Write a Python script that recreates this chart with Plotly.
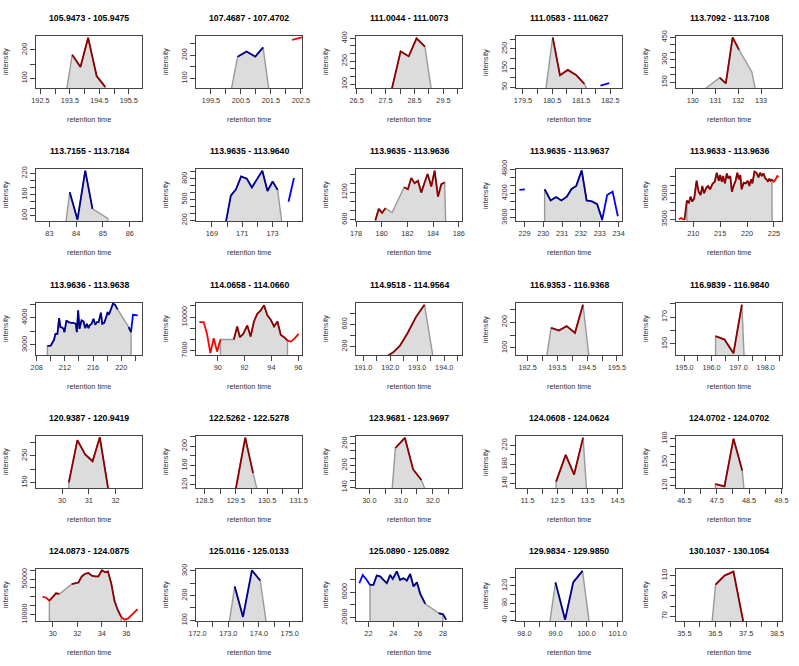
import plotly.graph_objects as go

DR, DB, RD, BL = "#8B0000", "#00008B", "#FF0000", "#0000FF"

# ---------------- panel 1 ----------------
p1_title = "105.9473 - 105.9475"
p1_xrange = [192.35, 195.95]
p1_xticks = [192.5, 193.0, 193.5, 194.0, 194.5, 195.0, 195.5]
p1_xlabels = ["192.5", "", "193.5", "", "194.5", "", "195.5"]
p1_yrange = [66, 249]
p1_yticks = [100, 150, 200]
p1_ylabels = ["100", "", "200"]
p1_area_rt = [193.30, 193.58, 193.86, 194.12, 194.41, 194.70, 194.72]
p1_area_int = [0, 183, 140, 243, 108, 70, 0]
p1_peak_rt = [193.58, 193.86, 194.12, 194.41, 194.70]
p1_peak_int = [183, 140, 243, 108, 70]
p1_peak_col = DR
p1_out_rt, p1_out_int, p1_out_col = [], [], RD

# ---------------- panel 2 ----------------
p2_title = "107.4687 - 107.4702"
p2_xrange = [199.0, 202.54]
p2_xticks = [199.5, 200.0, 200.5, 201.0, 201.5, 202.0, 202.5]
p2_xlabels = ["199.5", "", "200.5", "", "201.5", "", "202.5"]
p2_yrange = [59, 283]
p2_yticks = [100, 150, 200, 250]
p2_ylabels = ["100", "", "200", ""]
p2_area_rt = [200.10, 200.39, 200.69, 200.98, 201.24, 201.49]
p2_area_int = [0, 194, 216, 194, 234, 0]
p2_peak_rt = [200.39, 200.69, 200.98, 201.24]
p2_peak_int = [194, 216, 194, 234]
p2_peak_col = DB
p2_out_rt = [202.21, 202.60]
p2_out_int = [266, 279]
p2_out_col = RD

# ---------------- panel 3 ----------------
p3_title = "111.0044 - 111.0073"
p3_xrange = [26.48, 30.14]
p3_xticks = [26.5, 27.0, 27.5, 28.0, 28.5, 29.0, 29.5, 30.0]
p3_xlabels = ["26.5", "", "27.5", "", "28.5", "", "29.5", ""]
p3_yrange = [74, 415]
p3_yticks = [100, 150, 200, 250, 300, 350, 400]
p3_ylabels = ["100", "", "", "250", "", "", "400"]
p3_area_rt = [27.72, 27.72, 28.02, 28.30, 28.57, 28.86, 29.13]
p3_area_int = [0, 70, 314, 282, 400, 346, 0]
p3_peak_rt = [27.72, 28.02, 28.30, 28.57, 28.86]
p3_peak_int = [70, 314, 282, 400, 346]
p3_peak_col = DR
p3_out_rt, p3_out_int, p3_out_col = [], [], RD

# ---------------- panel 4 ----------------
p4_title = "111.0583 - 111.0627"
p4_xrange = [179.26, 182.90]
p4_xticks = [179.5, 180.0, 180.5, 181.0, 181.5, 182.0, 182.5]
p4_xlabels = ["179.5", "", "180.5", "", "181.5", "", "182.5"]
p4_yrange = [45, 318]
p4_yticks = [50, 100, 150, 200, 250, 300]
p4_ylabels = ["50", "", "150", "", "250", ""]
p4_area_rt = [180.25, 180.52, 180.77, 181.04, 181.32, 181.61, 181.80]
p4_area_int = [0, 311, 112, 140, 114, 67, 0]
p4_peak_rt = [180.52, 180.77, 181.04, 181.32, 181.61]
p4_peak_int = [311, 112, 140, 114, 67]
p4_peak_col = DR
p4_out_rt = [182.16, 182.46]
p4_out_int = [57, 71]
p4_out_col = BL

# ---------------- panel 5 ----------------
p5_title = "113.7092 - 113.7108"
p5_xrange = [129.26, 133.92]
p5_xticks = [130, 131, 132, 133]
p5_xlabels = ["130", "131", "132", "133"]
p5_yrange = [112, 459]
p5_yticks = [150, 200, 250, 300, 350, 400, 450]
p5_ylabels = ["150", "", "", "300", "", "", "450"]
p5_area_rt = [129.63, 131.18, 131.45, 131.75, 132.03, 132.59, 132.89]
p5_area_int = [0, 181, 143, 450, 367, 221, 0]
p5_peak_rt = [131.18, 131.45, 131.75, 132.03]
p5_peak_int = [181, 143, 450, 367]
p5_peak_col = DR
p5_out_rt, p5_out_int, p5_out_col = [], [], RD

# ---------------- panel 6 ----------------
p6_title = "113.7155 - 113.7184"
p6_xrange = [82.5, 86.46]
p6_xticks = [83, 84, 85, 86]
p6_xlabels = ["83", "84", "85", "86"]
p6_yrange = [85.7, 232.4]
p6_yticks = [100, 120, 140, 160, 180, 200, 220]
p6_ylabels = ["100", "", "", "160", "", "", "220"]
p6_area_rt = [83.48, 83.76, 84.05, 84.34, 84.61, 85.18, 85.22]
p6_area_int = [0, 167, 89.5, 228, 120, 93, 0]
p6_peak_rt = [83.76, 84.05, 84.34, 84.61]
p6_peak_int = [167, 89.5, 228, 120]
p6_peak_col = DB
p6_out_rt, p6_out_int, p6_out_col = [], [], BL

# ---------------- panel 7 ----------------
p7_title = "113.9635 - 113.9640"
p7_xrange = [167.95, 174.95]
p7_xticks = [169, 170, 171, 172, 173, 174]
p7_xlabels = ["169", "", "171", "", "173", ""]
p7_yrange = [190, 941]
p7_yticks = [200, 300, 400, 500, 600, 700, 800, 900]
p7_ylabels = ["200", "", "", "500", "", "", "800", ""]
p7_area_rt = [169.92, 169.92, 170.25, 170.59, 170.93, 171.31, 171.64, 171.98, 172.33, 172.67, 173.01, 173.34, 173.72]
p7_area_int = [0, 170, 556, 649, 834, 800, 673, 795, 917, 624, 761, 639, 0]
p7_peak_rt = [169.92, 170.25, 170.59, 170.93, 171.31, 171.64, 171.98, 172.33, 172.67, 173.01, 173.34]
p7_peak_int = [170, 556, 649, 834, 800, 673, 795, 917, 624, 761, 639]
p7_peak_col = DB
p7_out_rt = [174.06, 174.42]
p7_out_int = [468, 810]
p7_out_col = BL

# ---------------- panel 8 ----------------
p8_title = "113.9635 - 113.9636"
p8_xrange = [178.0, 186.25]
p8_xticks = [178, 180, 182, 184, 186]
p8_xlabels = ["178", "180", "182", "184", "186"]
p8_yrange = [570, 1711]
p8_yticks = [600, 800, 1000, 1200, 1400, 1600]
p8_ylabels = ["600", "", "", "1200", "", ""]
p8_area_rt = [179.51, 179.51, 179.77, 180.03, 180.29, 180.81, 181.75, 182.04, 182.30, 182.56, 182.82, 183.08,
              183.34, 183.57, 183.86, 184.12, 184.38, 184.64, 184.90, 185.03]
p8_area_int = [0, 585, 837, 748, 852, 756, 1311, 1267, 1511, 1400, 1452, 1193,
               1415, 1600, 1326, 1674, 1104, 1378, 1415, 0]
p8_peak_rt = [179.51, 179.77, 180.03, 180.29, None, 181.75, 182.04, 182.30, 182.56, 182.82, 183.08,
              183.34, 183.57, 183.86, 184.12, 184.38, 184.64, 184.90]
p8_peak_int = [585, 837, 748, 852, None, 1311, 1267, 1511, 1400, 1452, 1193,
               1415, 1600, 1326, 1674, 1104, 1378, 1415]
p8_peak_col = DR
p8_out_rt, p8_out_int, p8_out_col = [], [], RD

# ---------------- panel 9 ----------------
p9_title = "113.9635 - 113.9637"
p9_xrange = [228.55, 234.18]
p9_xticks = [229, 230, 231, 232, 233, 234]
p9_xlabels = ["229", "230", "231", "232", "233", "234"]
p9_yrange = [3517, 4800]
p9_yticks = [3600, 3800, 4000, 4200, 4400, 4600, 4800]
p9_ylabels = ["3600", "", "", "4200", "", "", "4800"]
p9_area_rt = [230.07, 230.07, 230.39, 230.68, 230.96, 231.25, 231.50, 231.75, 232.04, 232.30, 232.59, 232.86, 233.13, 233.13]
p9_area_int = [0, 4300, 4025, 4108, 4025, 4117, 4308, 4383, 4767, 4025, 4000, 3933, 3550, 0]
p9_peak_rt = [230.07, 230.39, 230.68, 230.96, 231.25, 231.50, 231.75, 232.04, 232.30, 232.59, 232.86, 233.13]
p9_peak_int = [4300, 4025, 4108, 4025, 4117, 4308, 4383, 4767, 4025, 4000, 3933, 3550]
p9_peak_col = DB
p9_out_rt = [228.73, 229.02, None, 233.13, 233.39, 233.68, 233.96]
p9_out_int = [4283, 4300, None, 3550, 4158, 4242, 3633]
p9_out_col = BL

# ---------------- panel 10 ----------------
p10_title = "113.9633 - 113.9636"
p10_xrange = [206.8, 226.5]
p10_xticks = [210, 215, 220, 225]
p10_xlabels = ["210", "215", "220", "225"]
p10_yrange = [3400, 6447]
p10_yticks = [3500, 4000, 4500, 5000, 5500, 6000]
p10_ylabels = ["3500", "", "", "5000", "", ""]
p10_peak_rt = [208.38, 208.81, 209.19, 209.5, 209.81, 210.19, 210.63, 211.0, 211.38, 211.69, 212.0, 212.38,
               212.75, 213.13, 213.56, 214.0, 214.38, 214.75, 215.0, 215.31, 215.56, 215.88, 216.25, 216.5,
               216.88, 217.19, 217.5, 217.88, 218.19, 218.5, 218.75, 219.0, 219.38, 219.75, 220.13, 220.44,
               220.75, 221.0, 221.38, 221.75, 222.13, 222.44, 222.75, 223.06, 223.38, 223.63, 223.88, 224.13,
               224.38, 224.63]
p10_peak_int = [3461, 4592, 4475, 4826, 4534, 4729, 5762, 5119, 4924, 5450, 5021, 5314,
                5450, 5255, 5567, 5704, 6230, 5762, 6094, 5704, 6035, 5606, 6191, 5899,
                6035, 5119, 5450, 5762, 6230, 5840, 6094, 5255, 5645, 5606, 5762, 5450,
                5840, 5606, 6289, 6230, 5957, 6230, 6035, 6191, 5899, 5840, 5704, 5879,
                5762, 5840]
p10_area_rt = [208.81] + p10_peak_rt[1:] + [224.70]
p10_area_int = [0] + p10_peak_int[1:] + [0]
p10_peak_col = DR
p10_out_rt = [207.31, 207.75, 208.13, 208.38, None, 224.63, 224.94, 225.25, 225.63, 225.88]
p10_out_int = [3500, 3578, 3500, 3461, None, 5840, 5704, 5801, 6035, 5996]
p10_out_col = RD

# ---------------- panel 11 ----------------
p11_title = "113.9636 - 113.9638"
p11_xrange = [207.9, 222.94]
p11_xticks = [208, 210, 212, 214, 216, 218, 220, 222]
p11_xlabels = ["208", "", "212", "", "216", "", "220", ""]
p11_yrange = [2630, 4543]
p11_yticks = [3000, 3500, 4000, 4500]
p11_ylabels = ["3000", "", "4000", ""]
p11_peak_rt = [209.52, 209.99, 210.47, 210.66, 210.94, 211.18, 211.37, 211.61, 211.80, 211.94, 212.22, 212.51,
               212.89, 213.22, 213.55, 213.69, 213.88, 214.07, 214.36, 214.64, 214.88, 215.12, 215.35, 215.50,
               215.78, 216.06, 216.30, 216.54, 216.78, 217.11, 217.30, 217.58, 217.87, 218.06, 218.25, 218.53,
               218.82, 219.10, 219.48, None, 221.05, 221.38]
p11_peak_int = [2963, 2975, 3198, 3408, 3408, 3988, 3655, 3642, 3593, 3469, 3902, 3840,
                3815, 3815, 3778, 3469, 4272, 3593, 3902, 3865, 3618, 3778, 3618, 3716,
                3778, 3963, 3741, 3840, 3840, 4186, 3778, 3815, 4025, 4210, 4111, 4334,
                4519, 4482, 4309, None, 3655, 3469]
p11_area_rt = [209.52] + [v for v in p11_peak_rt if v is not None] + [221.42]
p11_area_int = [0] + [v for v in p11_peak_int if v is not None] + [0]
p11_peak_col = DB
p11_out_rt = [221.38, 221.66, 222.33]
p11_out_int = [3469, 4111, 4090]
p11_out_col = BL

# ---------------- panel 12 ----------------
p12_title = "114.0658 - 114.0660"
p12_xrange = [88.38, 96.28]
p12_xticks = [90, 92, 94, 96]
p12_xlabels = ["90", "92", "94", "96"]
p12_yrange = [6610, 11260]
p12_yticks = [7000, 8000, 9000, 10000, 11000]
p12_ylabels = ["7000", "", "", "10000", ""]
p12_peak_rt = [91.20, 91.45, 91.65, 91.90, 92.20, 92.45, 92.70, 92.95, 93.20, 93.45, 93.70, 93.95,
               94.20, 94.45, 94.70, 94.95, 95.20]
p12_peak_int = [7990, 9160, 8200, 8500, 9250, 8260, 9610, 10300, 10600, 11050, 10150, 9760,
                9160, 9610, 8410, 8200, 7900]
p12_area_rt = [90.20, 90.20] + p12_peak_rt + [95.20]
p12_area_int = [0, 7990] + p12_peak_int + [0]
p12_peak_col = DR
p12_out_rt = [88.63, 88.95, 89.20, 89.45, 89.70, 89.95, 90.20, None, 95.20, 95.45, 95.70, 96.03]
p12_out_int = [9550, 9550, 8500, 6790, 8110, 6910, 7990, None, 7900, 7810, 8050, 8500]
p12_out_col = RD

# ---------------- panel 13 ----------------
p13_title = "114.9518 - 114.9564"
p13_xrange = [190.73, 194.66]
p13_xticks = [191.0, 191.5, 192.0, 192.5, 193.0, 193.5, 194.0, 194.5]
p13_xlabels = ["191.0", "", "192.0", "", "193.0", "", "194.0", ""]
p13_yrange = [48.5, 988]
p13_yticks = [200, 400, 600, 800]
p13_ylabels = ["200", "", "600", ""]
p13_peak_rt = [191.90, 192.14, 192.36, 192.64, 192.95, 193.27]
p13_peak_int = [30, 109, 218, 442, 733, 958]
p13_area_rt = [191.90] + p13_peak_rt + [193.59]
p13_area_int = [0] + p13_peak_int + [0]
p13_peak_col = DR
p13_out_rt, p13_out_int, p13_out_col = [], [], RD

# ---------------- panel 14 ----------------
p14_title = "116.9353 - 116.9368"
p14_xrange = [192.11, 195.67]
p14_xticks = [192.5, 193.0, 193.5, 194.0, 194.5, 195.0, 195.5]
p14_xlabels = ["192.5", "", "193.5", "", "194.5", "", "195.5"]
p14_yrange = [72.7, 274]
p14_yticks = [100, 150, 200, 250]
p14_ylabels = ["100", "", "200", ""]
p14_peak_rt = [193.29, 193.55, 193.81, 194.09, 194.36]
p14_peak_int = [178, 167.5, 184.4, 158.4, 267.5]
p14_area_rt = [193.05] + p14_peak_rt + [194.63]
p14_area_int = [0] + p14_peak_int + [0]
p14_peak_col = DR
p14_out_rt, p14_out_int, p14_out_col = [], [], RD

# ---------------- panel 15 ----------------
p15_title = "116.9839 - 116.9840"
p15_xrange = [194.69, 198.6]
p15_xticks = [195.0, 195.5, 196.0, 196.5, 197.0, 197.5, 198.0, 198.5]
p15_xlabels = ["195.0", "", "196.0", "", "197.0", "", "198.0", ""]
p15_yrange = [141.75, 180.5]
p15_yticks = [150, 160, 170, 180]
p15_ylabels = ["150", "", "170", ""]
p15_peak_rt = [196.15, 196.48, 196.81, 197.12]
p15_peak_int = [155.75, 153.25, 143, 179.25]
p15_area_rt = [196.14] + p15_peak_rt + [197.5]
p15_area_int = [0] + p15_peak_int + [0]
p15_peak_col = DR
p15_out_rt, p15_out_int, p15_out_col = [], [], RD

# ---------------- panel 16 ----------------
p16_title = "120.9387 - 120.9419"
p16_xrange = [29.02, 32.99]
p16_xticks = [30, 31, 32]
p16_xlabels = ["30", "31", "32"]
p16_yrange = [129.7, 324.7]
p16_yticks = [150, 200, 250, 300]
p16_ylabels = ["150", "", "250", ""]
p16_peak_rt = [30.25, 30.57, 30.86, 31.14, 31.41, 31.75]
p16_peak_int = [151, 309, 256, 230, 320, 110]
p16_area_rt = [30.24] + p16_peak_rt + [31.75]
p16_area_int = [0] + p16_peak_int + [0]
p16_peak_col = DR
p16_out_rt, p16_out_int, p16_out_col = [], [], RD

# ---------------- panel 17 ----------------
p17_title = "122.5262 - 122.5278"
p17_xrange = [128.23, 131.61]
p17_xticks = [128.5, 129.0, 129.5, 130.0, 130.5, 131.0, 131.5]
p17_xlabels = ["128.5", "", "129.5", "", "130.5", "", "131.5"]
p17_yrange = [113.7, 220.9]
p17_yticks = [120, 140, 160, 180, 200, 220]
p17_ylabels = ["120", "", "160", "", "200", ""]
p17_peak_rt = [129.5, 129.8, 130.05]
p17_peak_int = [112, 217.5, 144.3]
p17_area_rt = [129.5] + p17_peak_rt + [130.6]
p17_area_int = [0] + p17_peak_int + [0]
p17_peak_col = DR
p17_out_rt, p17_out_int, p17_out_col = [], [], RD

# ---------------- panel 18 ----------------
p18_title = "123.9681 - 123.9697"
p18_xrange = [29.58, 32.92]
p18_xticks = [30.0, 30.5, 31.0, 31.5, 32.0, 32.5]
p18_xlabels = ["30.0", "", "31.0", "", "32.0", ""]
p18_yrange = [138, 281]
p18_yticks = [140, 160, 180, 200, 220, 240, 260, 280]
p18_ylabels = ["140", "", "", "200", "", "", "260", ""]
p18_peak_rt = [30.82, 31.12, 31.38, 31.64]
p18_peak_int = [248, 276, 189, 160]
p18_area_rt = [30.60] + p18_peak_rt + [32.37]
p18_area_int = [0] + p18_peak_int + [0]
p18_peak_col = DR
p18_out_rt, p18_out_int, p18_out_col = [], [], RD

# ---------------- panel 19 ----------------
p19_title = "124.0608 - 124.0624"
p19_xrange = [11.11, 14.65]
p19_xticks = [11.5, 12.0, 12.5, 13.0, 13.5, 14.0, 14.5]
p19_xlabels = ["11.5", "", "12.5", "", "13.5", "", "14.5"]
p19_yrange = [130, 239.9]
p19_yticks = [140, 160, 180, 200, 220]
p19_ylabels = ["140", "", "180", "", "220"]
p19_peak_rt = [12.45, 12.77, 13.05, 13.35]
p19_peak_int = [143.5, 200, 158.4, 236.5]
p19_area_rt = [12.45] + p19_peak_rt + [13.60]
p19_area_int = [0] + p19_peak_int + [0]
p19_peak_col = DR
p19_out_rt, p19_out_int, p19_out_col = [], [], RD

# ---------------- panel 20 ----------------
p20_title = "124.0702 - 124.0702"
p20_xrange = [46.24, 49.52]
p20_xticks = [46.5, 47.0, 47.5, 48.0, 48.5, 49.0, 49.5]
p20_xlabels = ["46.5", "", "47.5", "", "48.5", "", "49.5"]
p20_yrange = [117, 183.4]
p20_yticks = [120, 130, 140, 150, 160, 170, 180]
p20_ylabels = ["120", "", "", "150", "", "", "180"]
p20_peak_rt = [47.46, 47.74, 48.02, 48.29]
p20_peak_int = [122.1, 119.1, 180, 139.3]
p20_area_rt = [47.46] + p20_peak_rt + [48.60]
p20_area_int = [0] + p20_peak_int + [0]
p20_peak_col = DR
p20_out_rt, p20_out_int, p20_out_col = [], [], RD

# ---------------- panel 21 ----------------
p21_title = "124.0873 - 124.0875"
p21_xrange = [28.64, 37.28]
p21_xticks = [30, 32, 34, 36]
p21_xlabels = ["30", "32", "34", "36"]
p21_yrange = [2760, 61430]
p21_yticks = [10000, 20000, 30000, 40000, 50000, 60000]
p21_ylabels = ["10000", "", "", "", "50000", ""]
p21_peak_rt = [29.73, 30.0, 30.27, 30.54, None, 31.55, 31.83, 32.10, 32.37, 32.64, 32.92, 33.19, 33.46,
               33.73, 34.01, 34.28, 34.50, 34.77, 35.04, 35.31, 35.59]
p21_peak_int = [25620, 30190, 34000, 33240, None, 44290, 45430, 46190, 53050, 56100, 56860, 53820, 53050,
                53050, 59910, 57630, 58770, 45430, 25240, 14950, 7330]
p21_area_rt = [29.73] + [v for v in p21_peak_rt if v is not None] + [35.59]
p21_area_int = [0] + [v for v in p21_peak_int if v is not None] + [0]
p21_peak_col = DR
p21_out_rt = [29.18, 29.46, 29.73, None, 35.59, 35.86, 36.13, 36.40, 36.68, 36.92]
p21_out_int = [30190, 29050, 25620, None, 7330, 4285, 5430, 9240, 13050, 16100]
p21_out_col = RD

# ---------------- panel 22 ----------------
p22_title = "125.0116 - 125.0133"
p22_xrange = [171.95, 175.4]
p22_xticks = [172.0, 172.5, 173.0, 173.5, 174.0, 174.5, 175.0]
p22_xlabels = ["172.0", "", "173.0", "", "174.0", "", "175.0"]
p22_yrange = [97.3, 308]
p22_yticks = [100, 150, 200, 250, 300]
p22_ylabels = ["100", "", "200", "", "300"]
p22_peak_rt = [173.21, 173.48, 173.77, 174.04]
p22_peak_int = [237, 113.7, 302.7, 261.6]
p22_area_rt = [172.92] + p22_peak_rt + [174.34]
p22_area_int = [0] + p22_peak_int + [0]
p22_peak_col = DB
p22_out_rt, p22_out_int, p22_out_col = [], [], BL

# ---------------- panel 23 ----------------
p23_title = "125.0890 - 125.0892"
p23_xrange = [21.0, 29.53]
p23_xticks = [22, 24, 26, 28]
p23_xlabels = ["22", "24", "26", "28"]
p23_yrange = [1480, 9636]
p23_yticks = [2000, 4000, 6000, 8000]
p23_ylabels = ["2000", "", "6000", ""]
p23_peak_rt = [22.13, 22.40, 22.67, 22.94, 23.21, 23.48, 23.75, 23.96, 24.28, 24.55, 24.82, 25.09, 25.36,
               25.63, 25.90, 26.17, 26.57, None, 27.65, 28.0, 28.26]
p23_peak_int = [7143, 7143, 8598, 8494, 7922, 7403, 8702, 8078, 9273, 7922, 8182, 7818, 8857,
                6883, 7559, 5740, 4182, None, 2727, 2519, 1688]
p23_area_rt = [22.13] + [v for v in p23_peak_rt[:-1] if v is not None] + [28.0]
p23_area_int = [0] + [v for v in p23_peak_int[:-1] if v is not None] + [0]
p23_peak_col = DB
p23_out_rt = [21.27, 21.54, 21.87, 22.13]
p23_out_int = [7403, 8702, 7922, 7143]
p23_out_col = BL

# ---------------- panel 24 ----------------
p24_title = "129.9834 - 129.9850"
p24_xrange = [97.73, 101.14]
p24_xticks = [98.0, 98.5, 99.0, 99.5, 100.0, 100.5, 101.0]
p24_xlabels = ["98.0", "", "99.0", "", "100.0", "", "101.0"]
p24_yrange = [38.4, 159.5]
p24_yticks = [40, 60, 80, 100, 120, 140]
p24_ylabels = ["40", "", "80", "", "120", ""]
p24_peak_rt = [99.0, 99.31, 99.57, 99.87]
p24_peak_int = [128.4, 41.5, 128.4, 155]
p24_area_rt = [98.75] + p24_peak_rt + [100.15]
p24_area_int = [0] + p24_peak_int + [0]
p24_peak_col = DB
p24_out_rt, p24_out_int, p24_out_col = [], [], BL

# ---------------- panel 25 ----------------
p25_title = "130.1037 - 130.1054"
p25_xrange = [35.23, 38.66]
p25_xticks = [35.5, 36.0, 36.5, 37.0, 37.5, 38.0, 38.5]
p25_xlabels = ["35.5", "", "36.5", "", "37.5", "", "38.5"]
p25_yrange = [65.4, 116.5]
p25_yticks = [70, 80, 90, 100, 110]
p25_ylabels = ["70", "", "90", "", "110"]
p25_peak_rt = [36.51, 36.8, 37.09, 37.45]
p25_peak_int = [101.2, 110, 113.9, 58]
p25_area_rt = [36.2] + p25_peak_rt + [37.45]
p25_area_int = [0] + p25_peak_int + [0]
p25_peak_col = DR
p25_out_rt, p25_out_int, p25_out_col = [], [], RD

# ---------------- layout ----------------
W, H = 799, 666
COL_L = [36, 196, 356, 516, 676]
ROW_T = [36, 169, 303, 436, 569]
PW, PH = 106, 52
FONT = "Liberation Sans, Arial, Helvetica, sans-serif"
AXC = "#444444"

g = globals()
fig = go.Figure()
layout = dict(width=W, height=H, margin=dict(l=0, r=0, t=0, b=0, autoexpand=False),
              paper_bgcolor="white", plot_bgcolor="white", showlegend=False,
              font=dict(family=FONT, color="#222222"))
annotations = []

for n in range(1, 26):
    i = n - 1
    r, c = divmod(i, 5)
    L, T = COL_L[c], ROW_T[r]
    xa = "x" if n == 1 else f"x{n}"
    ya = "y" if n == 1 else f"y{n}"
    p = lambda k: g[f"p{n}_{k}"]

    fig.add_trace(go.Scatter(x=p("area_rt"), y=p("area_int"), mode="lines", fill="toself",
                             fillcolor="#DCDCDC", line=dict(color="#999999", width=1.4),
                             xaxis=xa, yaxis=ya, hoverinfo="skip"))
    if p("out_rt"):
        fig.add_trace(go.Scatter(x=p("out_rt"), y=p("out_int"), mode="lines",
                                 line=dict(color=p("out_col"), width=1.8),
                                 xaxis=xa, yaxis=ya, connectgaps=False))
    fig.add_trace(go.Scatter(x=p("peak_rt"), y=p("peak_int"), mode="lines",
                             line=dict(color=p("peak_col"), width=1.8),
                             xaxis=xa, yaxis=ya, connectgaps=False))

    common = dict(ticks="outside", ticklen=5, tickwidth=1, tickcolor=AXC,
                  showline=True, mirror=True, linecolor=AXC, linewidth=1,
                  showgrid=False, zeroline=False, tickmode="array", automargin=False,
                  tickfont=dict(size=7.3, color="#333333", family=FONT))
    layout["xaxis" if n == 1 else f"xaxis{n}"] = dict(
        domain=[L / W, (L + PW) / W], range=p("xrange"), anchor=ya,
        tickvals=p("xticks"), ticktext=p("xlabels"), **common)
    layout["yaxis" if n == 1 else f"yaxis{n}"] = dict(
        domain=[1 - (T + PH) / H, 1 - T / H], range=p("yrange"), anchor=xa,
        tickvals=p("yticks"), ticktext=p("ylabels"), tickangle=-90, **common)

    annotations.append(dict(text=p("title"), x=(L + PW / 2) / W, y=1 - (T - 18) / H,
                            xref="paper", yref="paper", showarrow=False,
                            xanchor="center", yanchor="middle",
                            font=dict(size=8.7, color="#000000", family=FONT, weight="bold")))
    annotations.append(dict(text="retention time", x=(L + PW / 2) / W, y=1 - (T + PH + 31) / H,
                            xref="paper", yref="paper", showarrow=False,
                            xanchor="center", yanchor="middle",
                            font=dict(size=7.3, color="#333333", family=FONT)))
    annotations.append(dict(text="intensity", x=(L - 31) / W, y=1 - (T + PH / 2) / H,
                            xref="paper", yref="paper", showarrow=False, textangle=-90,
                            xanchor="center", yanchor="middle",
                            font=dict(size=7.3, color="#333333", family=FONT)))

layout["annotations"] = annotations
fig.update_layout(**layout)
fig.write_html("out.html", config={"displayModeBar": False},
               post_script="document.body.style.margin='0';document.body.style.overflow='hidden';")
